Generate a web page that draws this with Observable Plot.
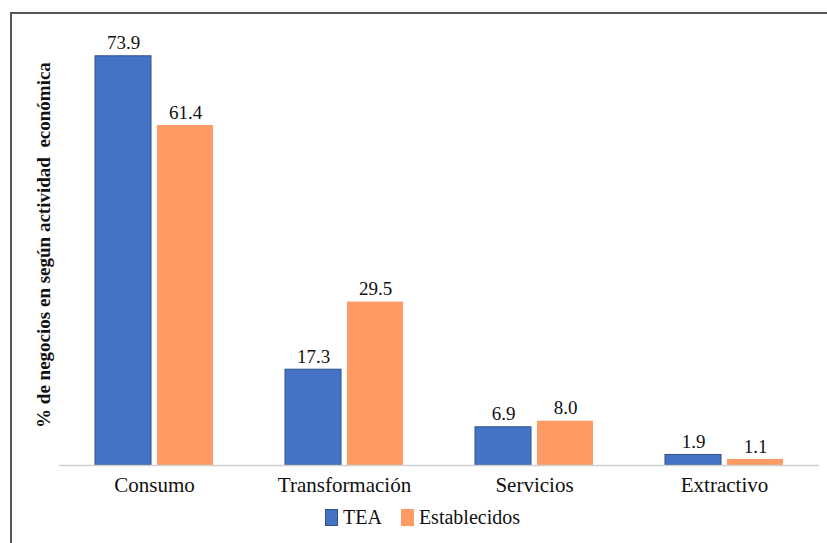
<!DOCTYPE html>
<html><head><meta charset="utf-8">
<script src="https://cdn.jsdelivr.net/npm/d3@7"></script>
<script src="https://cdn.jsdelivr.net/npm/@observablehq/plot@0.6"></script>
<style>
body{margin:0;background:#fff;font-family:"Liberation Serif","Times New Roman","DejaVu Serif",serif;}
#wrap{position:relative;width:827px;height:543px;overflow:hidden;}
#frame{position:absolute;left:10px;top:12px;width:830px;height:560px;border:2px solid #555;box-sizing:border-box;}
#chart{position:absolute;left:0;top:0;}
#legend{position:absolute;top:506px;left:325px;font-size:20px;color:#111;display:flex;align-items:center;}
.sw{display:inline-block;width:13px;height:17px;margin-right:5px;}
svg text{font-family:"Liberation Serif","Times New Roman","DejaVu Serif",serif;}
</style></head>
<body><div id="wrap"><div id="frame"></div><div id="chart"></div>
<div id="legend"><span class="sw" style="background:#4472C4;border:1px solid #2F528F;box-sizing:border-box"></span>TEA<span class="sw" style="background:#FF9A65;margin-left:19px"></span>Establecidos</div></div>
<script>
const categories = ["Consumo","Transformación","Servicios","Extractivo"];
const series = ["TEA","Establecidos"];
const tea = [73.9,17.3,6.9,1.9];
const establecidos = [61.4,29.5,8.0,1.1];
const colors = ["#4472C4","#FF9A65"];
const yLabel = "% de negocios en según actividad  económica";

const data = [];
categories.forEach((c,i)=>{
  data.push({cat:c, s:series[0], v:tea[i]});
  data.push({cat:c, s:series[1], v:establecidos[i]});
});

const chart = Plot.plot({
  width: 827, height: 500,
  marginLeft: 57, marginRight: 7, marginTop: 22, marginBottom: 35,
  style:{fontSize:"21px", color:"#111", background:"transparent"},
  fx:{domain:categories, padding:0, label:null, tickSize:0, tickPadding:12},
  x:{domain:series, paddingInner:0.1, paddingOuter:0.56, axis:null},
  y:{domain:[0,80], axis:null},
  color:{domain:series, range:colors},
  marks:[
    Plot.barY(data,{fx:"cat", x:"s", y:"v", fill:"s", stroke:d=>d.s==="TEA"?"#2F528F":"none", strokeWidth:1}),
    Plot.ruleY([0],{stroke:"#d0d0d0", strokeWidth:1.5}),
    Plot.text(data,{fx:"cat", x:"s", y:"v", text:d=>d.v.toFixed(1), dy:-13, fontSize:19, fill:"#111"})
  ]
});
document.getElementById("chart").appendChild(chart);
d3.select(chart).append("text")
  .attr("transform","translate(46,245) rotate(-90)")
  .attr("text-anchor","middle")
  .attr("dominant-baseline","middle")
  .attr("font-weight","bold")
  .attr("font-size","19px")
  .attr("fill","#111")
  .text(yLabel);
</script></body></html>
